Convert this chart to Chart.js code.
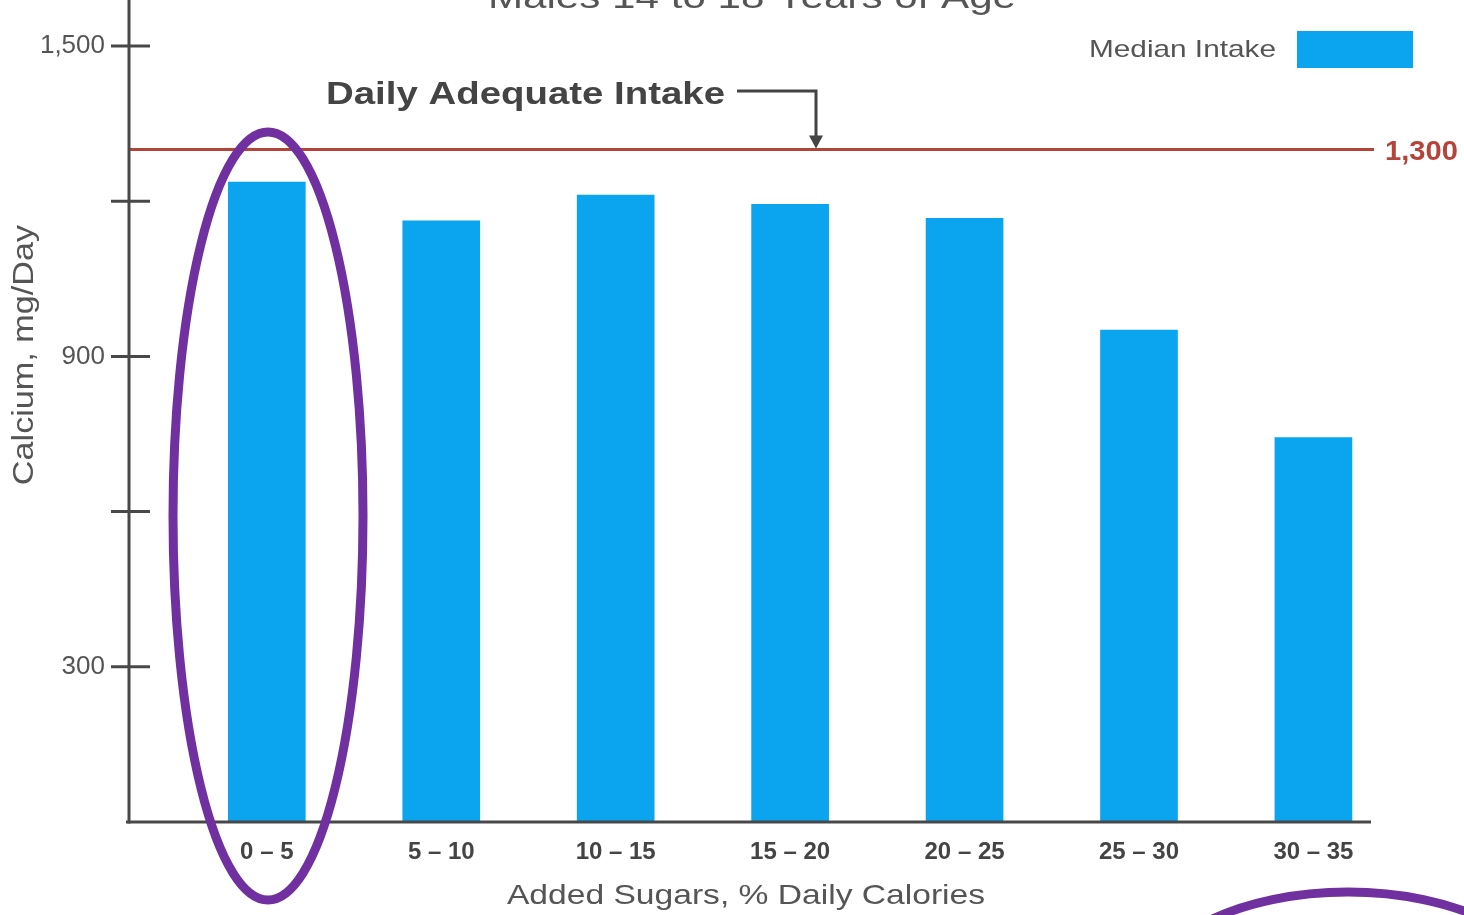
<!DOCTYPE html>
<html>
<head>
<meta charset="utf-8">
<title>Calcium intake by added sugars – Males 14 to 18 Years of Age</title>
<script src="https://cdn.jsdelivr.net/npm/chart.js@4.4.1/dist/chart.umd.min.js"></script>
<style>
  html, body { margin: 0; padding: 0; background: #ffffff; }
  #wrap { width: 1464px; height: 915px; position: relative; overflow: hidden; }
  canvas { display: block; }
</style>
</head>
<body>
<div id="wrap"><canvas id="chart" width="1464" height="915"></canvas></div>
<script>
// Added sugars bands (% of daily calories)
const categories = ['0 – 5', '5 – 10', '10 – 15', '15 – 20', '20 – 25', '25 – 30', '30 – 35'];
// Median calcium intake, mg/day
const medianIntake = [1237, 1162, 1212, 1194, 1167, 951, 743];
// Daily adequate intake reference level, mg/day
const adequateIntake = 1300;
const adequateIntakeLabel = '1,300';
// Y axis tick values and their printed labels
const yTickValues = [300, 600, 900, 1200, 1500];
const yTickLabels = ['300', '', '900', '', '1,500'];

const FONT = "'Liberation Sans', Arial, Helvetica, sans-serif";
const AXIS_COLOR = '#484848';
const TEXT_COLOR = '#555555';
const BAR_COLOR = '#0aa4ef';
const REF_COLOR = '#b4443a';
const RING_COLOR = '#7030a0';

// text drawn with a horizontal stretch factor
function wideText(ctx, text, x, y, font, color, sx, align) {
  ctx.save();
  ctx.translate(x, y);
  ctx.scale(sx, 1);
  ctx.font = font;
  ctx.fillStyle = color;
  ctx.textAlign = align || 'left';
  ctx.textBaseline = 'alphabetic';
  ctx.fillText(text, 0, 0);
  ctx.restore();
}

const decorations = {
  id: 'decorations',
  beforeDatasetsDraw(chart) {
    const { ctx, chartArea, scales } = chart;
    const y = scales.y;
    const refY = y.getPixelForValue(adequateIntake);

    // adequate intake reference line and its value
    ctx.save();
    ctx.strokeStyle = REF_COLOR;
    ctx.lineWidth = 3;
    ctx.beginPath();
    ctx.moveTo(chartArea.left, refY);
    ctx.lineTo(chartArea.right + 3, refY);
    ctx.stroke();
    ctx.restore();
    wideText(ctx, adequateIntakeLabel, chartArea.right + 14, refY + 10, 'bold 28px ' + FONT, REF_COLOR, 1.04, 'left');

    // "Daily Adequate Intake" callout with bracket arrow
    wideText(ctx, 'Daily Adequate Intake', 326, 104, 'bold 32px ' + FONT, '#444444', 1.2, 'left');
    ctx.save();
    ctx.strokeStyle = '#444444';
    ctx.fillStyle = '#444444';
    ctx.lineWidth = 3;
    ctx.beginPath();
    ctx.moveTo(737, 91);
    ctx.lineTo(816, 91);
    ctx.lineTo(816, refY - 12);
    ctx.stroke();
    ctx.beginPath();
    ctx.moveTo(809, refY - 14);
    ctx.lineTo(823, refY - 14);
    ctx.lineTo(816, refY - 1);
    ctx.closePath();
    ctx.fill();
    ctx.restore();

    // title (runs off the top edge)
    wideText(ctx, 'Males 14 to 18 Years of Age', 752, 8, '34px ' + FONT, TEXT_COLOR, 1.24, 'center');

    // legend
    const ds = chart.data.datasets[0];
    wideText(ctx, ds.label, 1089, 57, '24px ' + FONT, TEXT_COLOR, 1.24, 'left');
    ctx.save();
    ctx.fillStyle = ds.backgroundColor;
    ctx.fillRect(1297, 31, 116, 37);
    ctx.restore();

    // axis titles
    ctx.save();
    ctx.translate(25, 355);
    ctx.rotate(-Math.PI / 2);
    ctx.scale(1.14, 1);
    ctx.font = '30px ' + FONT;
    ctx.fillStyle = TEXT_COLOR;
    ctx.textAlign = 'center';
    ctx.textBaseline = 'middle';
    ctx.fillText('Calcium, mg/Day', 0, 0);
    ctx.restore();
    wideText(ctx, 'Added Sugars, % Daily Calories', 746, 904, '28px ' + FONT, TEXT_COLOR, 1.2, 'center');
  },
  afterDatasetsDraw(chart) {
    const { ctx, chartArea, scales } = chart;
    const y = scales.y;
    ctx.save();
    ctx.strokeStyle = AXIS_COLOR;
    ctx.lineWidth = 3;
    ctx.lineCap = 'butt';
    // y axis line
    ctx.beginPath();
    ctx.moveTo(chartArea.left, chartArea.top);
    ctx.lineTo(chartArea.left, chartArea.bottom + 1.5);
    ctx.stroke();
    // x axis line
    ctx.beginPath();
    ctx.moveTo(chartArea.left - 3, chartArea.bottom);
    ctx.lineTo(chartArea.right, chartArea.bottom);
    ctx.stroke();
    // cross tick marks
    yTickValues.forEach(v => {
      const py = y.getPixelForValue(v);
      ctx.beginPath();
      ctx.moveTo(chartArea.left - 18, py);
      ctx.lineTo(chartArea.left + 21, py);
      ctx.stroke();
    });
    ctx.restore();

    // highlight rings
    ctx.save();
    ctx.strokeStyle = RING_COLOR;
    ctx.lineWidth = 9;
    ctx.beginPath();
    ctx.ellipse(268, 516, 95, 384, 0, 0, Math.PI * 2);
    ctx.stroke();
    ctx.beginPath();
    ctx.ellipse(1348, 1000, 205, 108, 0, 0, Math.PI * 2);
    ctx.stroke();
    ctx.restore();
  }
};

new Chart(document.getElementById('chart'), {
  type: 'bar',
  data: {
    datasets: [{
      label: 'Median Intake',
      data: medianIntake.map((v, i) => ({ x: i, y: v })),
      backgroundColor: BAR_COLOR,
      borderWidth: 0,
      barThickness: 77
    }]
  },
  options: {
    responsive: false,
    animation: false,
    devicePixelRatio: 1,
    layout: { padding: { top: 0, right: 93, bottom: 0, left: 0 } },
    plugins: { legend: { display: false }, tooltip: { enabled: false }, title: { display: false } },
    scales: {
      x: {
        type: 'linear',
        position: 'bottom',
        min: -0.79,
        max: 6.33,
        offset: false,
        grid: { display: false, drawTicks: false },
        border: { display: false },
        afterBuildTicks: s => { s.ticks = categories.map((c, i) => ({ value: i })); },
        afterFit: s => { s.height = 93; s.paddingLeft = 0; s.paddingRight = 0; },
        ticks: {
          autoSkip: false,
          maxRotation: 0,
          padding: 16,
          color: '#444444',
          font: { family: FONT, size: 24, weight: 'bold' },
          callback: v => categories[v]
        }
      },
      y: {
        type: 'linear',
        min: 0,
        max: 1589,
        grid: { display: false, drawTicks: false },
        border: { display: false },
        afterBuildTicks: s => { s.ticks = yTickValues.map(v => ({ value: v })); },
        afterFit: s => { s.width = 129; s.paddingTop = 0; s.paddingBottom = 0; },
        ticks: {
          padding: 24,
          color: TEXT_COLOR,
          font: { family: FONT, size: 26 },
          callback: v => yTickLabels[yTickValues.indexOf(v)]
        }
      }
    }
  },
  plugins: [decorations]
});
</script>
</body>
</html>
